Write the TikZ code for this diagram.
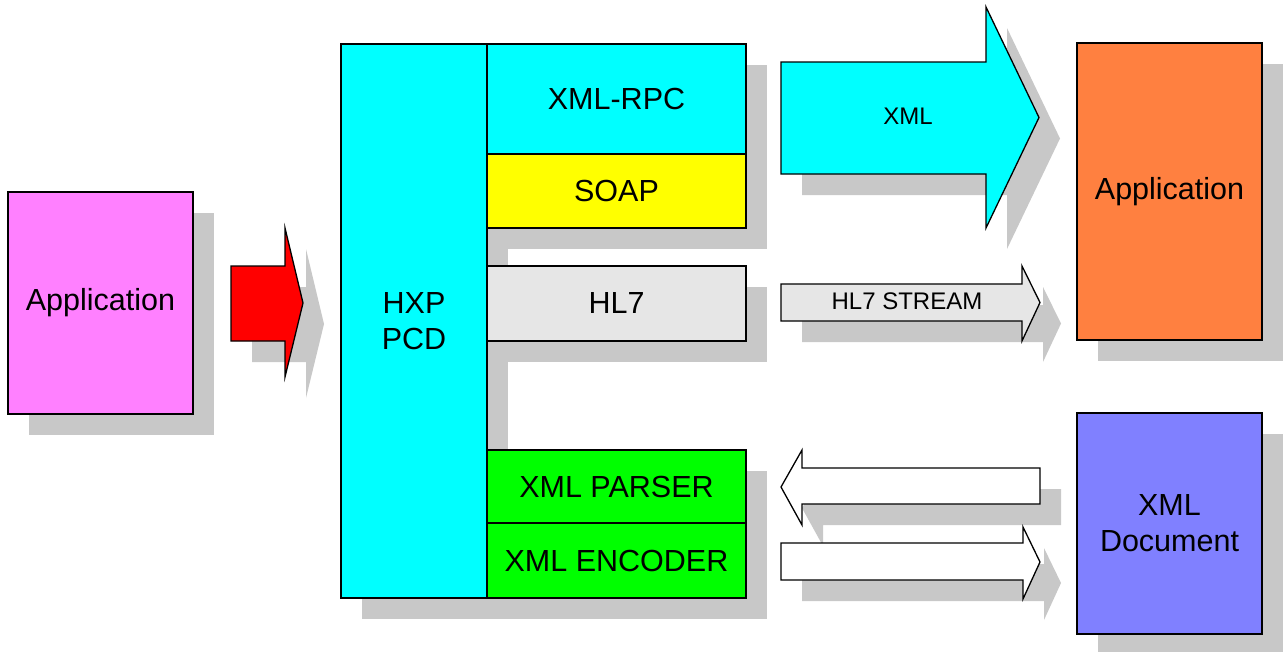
\documentclass[tikz,border=0pt]{standalone}
\usepackage{fontspec}
\setmainfont{Liberation Sans}
\usetikzlibrary{shadows}
\definecolor{shadowc}{RGB}{200,200,200}
\definecolor{pinkc}{RGB}{255,128,255}
\definecolor{cyanc}{RGB}{0,255,255}
\definecolor{yellowc}{RGB}{255,255,0}
\definecolor{lgreyc}{RGB}{230,230,230}
\definecolor{greenc}{RGB}{0,255,0}
\definecolor{orangec}{RGB}{255,128,64}
\definecolor{bluec}{RGB}{128,128,255}
\definecolor{redc}{RGB}{255,0,0}
\newcommand\blockarrow[2]{%
  \fill[shadowc, shift={(21,21)}] #2;
  \draw[arrowline,#1] #2;}
\begin{document}
\begin{tikzpicture}[x=1pt,y=-1pt,
  bigfont/.style={font=\fontsize{30.5}{36}\selectfont},
  smallfont/.style={font=\fontsize{24}{28}\selectfont},
  box/.style={draw=black, line width=1.3pt, inner sep=0pt, align=center, bigfont,
    drop shadow={shadow xshift=21pt, shadow yshift=-21pt, fill=shadowc, draw=none, opacity=1}},
  arrowline/.style={draw=black, line width=1.3pt, line join=miter},
  lbl/.style={inner sep=0pt, align=center}]
\useasboundingbox (0,0) rectangle (1283,651);
\fill[white] (0,0) rectangle (1283,651);

% left application
\node[box, fill=pinkc, minimum width=185pt, minimum height=222pt] (app1) at (100.5,303) {Application};

% red arrow
\blockarrow{fill=redc}{(231,266) -- (285,266) -- (285,228) -- (303,303) -- (285,377) -- (285,341) -- (231,341) -- cycle}
\coordinate (redarr) at (265,303);

% HXP PCD block
\node[box, fill=cyanc, minimum width=146pt, minimum height=554pt] (hxp) at (414,321) {HXP\\PCD};
\node[box, fill=cyanc, minimum width=259pt, minimum height=110pt] (rpc) at (616.5,99) {XML-RPC};
\node[box, fill=yellowc, minimum width=259pt, minimum height=74pt] (soap) at (616.5,191) {SOAP};
\node[box, fill=lgreyc, minimum width=259pt, minimum height=75pt] (hl7) at (616.5,303.5) {HL7};
\node[box, fill=greenc, minimum width=259pt, minimum height=73pt] (parser) at (616.5,486.5) {XML PARSER};
\node[box, fill=greenc, minimum width=259pt, minimum height=75pt] (encoder) at (616.5,560.5) {XML ENCODER};

% right boxes
\node[box, fill=orangec, minimum width=185pt, minimum height=297pt] (app2) at (1169.5,191.5) {Application};
\node[box, fill=bluec, minimum width=185pt, minimum height=221pt] (xmldoc) at (1169.5,523.5) {XML\\Document};

% XML arrow
\blockarrow{fill=cyanc}{(781,62) -- (986,62) -- (986,7) -- (1039,117.5) -- (986,228) -- (986,174) -- (781,174) -- cycle}
\node[lbl, smallfont] (xmlarr) at (908,116) {XML};

% HL7 stream arrow
\blockarrow{fill=lgreyc}{(781,284) -- (1022,284) -- (1022,266) -- (1040,302.5) -- (1022,341) -- (1022,321) -- (781,321) -- cycle}
\node[lbl, smallfont] (hl7arr) at (907,301) {HL7 STREAM};

% parser arrow (left)
\blockarrow{fill=white}{(1040,468) -- (802,468) -- (802,450) -- (781,487) -- (802,525) -- (802,504) -- (1040,504) -- cycle}
\coordinate (parsearr) at (910,486);

% encoder arrow (right)
\blockarrow{fill=white}{(781,543) -- (1023,543) -- (1023,527) -- (1040,562) -- (1023,599) -- (1023,580) -- (781,580) -- cycle}
\coordinate (encarr) at (910,561);
\end{tikzpicture}
\end{document}
